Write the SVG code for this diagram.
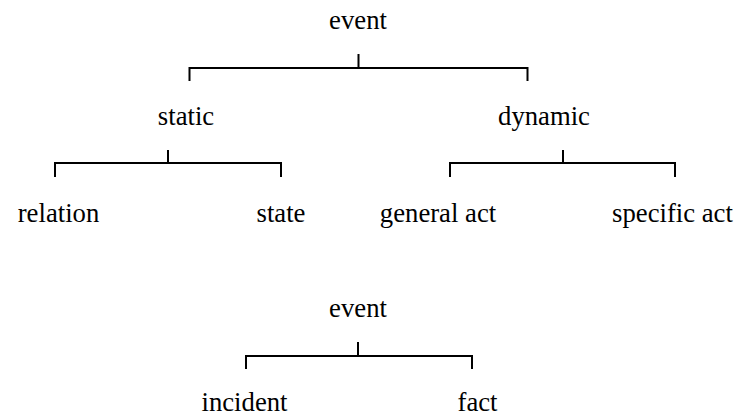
<svg xmlns="http://www.w3.org/2000/svg" width="740" height="416" viewBox="0 0 740 416">
<style>
text{font-size:26.7px;fill:#000;text-anchor:middle}
.c path{fill:none;stroke:#000;stroke-width:2}
</style>
<rect width="740" height="416" fill="#fff"/>
<g class="c" id="connectors">
<path d="M189.5,81V68H527.5V81M358.5,54V68"/>
<path d="M55,177V163H281V177M168,150V163"/>
<path d="M450,177V163H675V177M563,150V163"/>
<path d="M246,369V356H472V369M358,342V356"/>
</g>
<g font-family="'Liberation Serif', 'Times New Roman', 'DejaVu Serif', serif">
<g id="n-event"><text x="358" y="29">event</text></g>
<g id="n-static"><text x="186" y="125">static</text></g>
<g id="n-dynamic"><text x="544" y="125">dynamic</text></g>
<g id="n-relation"><text x="58.5" y="222">relation</text></g>
<g id="n-state"><text x="281" y="222">state</text></g>
<g id="n-general"><text x="438" y="222">general act</text></g>
<g id="n-specific"><text x="672.5" y="222">specific act</text></g>
<g id="n-event2"><text x="358" y="317">event</text></g>
<g id="n-incident"><text x="244.5" y="411">incident</text></g>
<g id="n-fact"><text x="477.5" y="411">fact</text></g>
</g>
</svg>
